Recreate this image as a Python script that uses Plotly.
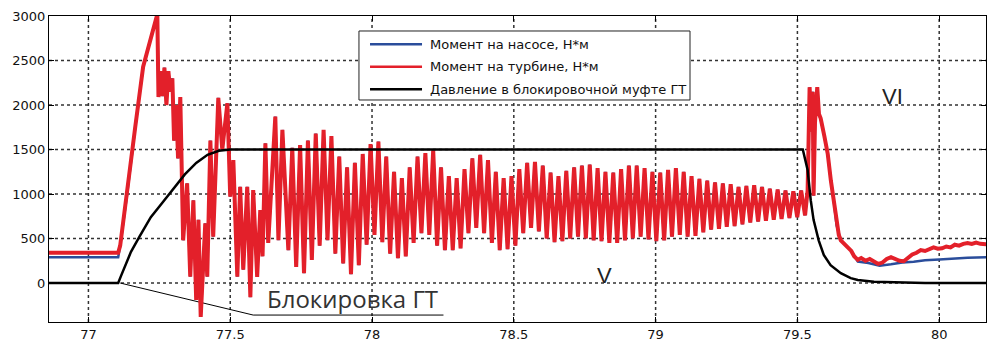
import numpy as np
import plotly.graph_objects as go

# ---- data -------------------------------------------------------------
# before lock-up engagement
t_pre = [76.86, 77.105]
pump_pre = [290, 290]
turbine_pre = [340, 340]

# turbine torque during engagement transient
t_engage = [77.105, 77.112, 77.137, 77.165, 77.193, 77.218, 77.243, 77.247,
            77.255, 77.262, 77.268, 77.275, 77.282, 77.289, 77.296, 77.302,
            77.310, 77.316, 77.324, 77.334, 77.348, 77.359, 77.370, 77.380,
            77.388, 77.396, 77.412, 77.419, 77.430, 77.440, 77.458, 77.472,
            77.490, 77.500, 77.511, 77.525, 77.535, 77.546, 77.560, 77.571,
            77.581, 77.595, 77.606, 77.614, 77.624, 77.634, 77.659, 77.670,
            77.684]
turbine_engage = [340, 420, 1010, 1750, 2430, 2730, 3020, 2090,
                  2380, 2100, 2420, 2000, 2380, 2150, 2300, 1600,
                  2000, 1400, 2090, 480, 1120, 70, 930, -190,
                  710, -380, 670, 70, 1600, 520, 2080, 1500,
                  2020, 970, 1380, 70, 1080, 150, 1080, -160,
                  1045, 70, 820, 300, 1570, 450, 1870, 480,
                  1720]

# turbine torque oscillation extrema (equally spaced in time)
osc_start, osc_end = 77.705, 79.527
turbine_osc = [370, 1520, 180, 1550, 110, 1600, 260, 1680, 420, 1720,
               480, 1650, 330, 1420, 220, 1300, 100, 1350, 200, 1450,
               430, 1560, 540, 1590, 460, 1420, 330, 1250, 280, 1180,
               300, 1300, 450, 1420, 560, 1460, 540, 1490, 420, 1300,
               370, 1200, 370, 1180, 390, 1280, 560, 1400, 620, 1440,
               560, 1380, 450, 1250, 370, 1180, 380, 1200, 420, 1280,
               560, 1350, 620, 1360, 580, 1320, 500, 1240, 460, 1200,
               470, 1260, 500, 1300, 520, 1320, 500, 1330, 480, 1290,
               470, 1250, 450, 1240, 450, 1280, 480, 1320, 500, 1320,
               520, 1290, 490, 1250, 470, 1240, 480, 1270, 520, 1290,
               540, 1250, 520, 1200, 530, 1170, 570, 1150, 600, 1130,
               610, 1120, 630, 1110, 640, 1080, 660, 1090, 680, 1100,
               690, 1080, 700, 1060, 710, 1050, 720, 1040, 730, 1030,
               740, 1040, 760]

# lock-up release spike and recovery
t_release = [79.536, 79.543, 79.550, 79.554, 79.557, 79.562, 79.570, 79.576,
             79.582, 79.595, 79.607, 79.618, 79.628, 79.638, 79.646, 79.653,
             79.670, 79.690, 79.700, 79.713, 79.725, 79.740, 79.755, 79.770,
             79.785, 79.800, 79.815, 79.830, 79.845, 79.860, 79.875, 79.890,
             79.905, 79.920, 79.935, 79.950, 79.965, 79.980, 79.995, 80.010,
             80.025, 80.040, 80.055, 80.070, 80.085, 80.100, 80.115, 80.130,
             80.145, 80.160, 80.170]
turbine_release = [1040, 2200, 1700, 2150, 980, 1800, 2200, 1900,
                   1850, 1650, 1450, 1150, 930, 650, 540, 480,
                   420, 360, 300, 260, 280, 250, 270, 240,
                   215, 230, 270, 290, 270, 250, 245, 290,
                   320, 340, 370, 360, 380, 400, 385, 390,
                   410, 400, 430, 420, 440, 450, 440, 455,
                   440, 430, 435]

# pump torque after release (elsewhere it follows the turbine torque)
t_pump_tail = [79.653, 79.690, 79.713, 79.750, 79.790, 79.830, 79.870, 79.910,
               79.950, 80.000, 80.050, 80.100, 80.170]
pump_tail = [480, 360, 240, 225, 195, 210, 230, 240,
             255, 265, 275, 285, 290]

# lock-up clutch pressure
t_pressure = [76.86, 77.105, 77.115, 77.13, 77.15, 77.18, 77.22, 77.26, 77.30,
              77.34, 77.38, 77.42, 77.46, 77.50, 79.519, 79.536, 79.547, 79.557,
              79.575, 79.593, 79.617, 79.653, 79.688, 79.713, 79.77, 79.89,
              79.95, 80.17]
pressure = [0, 0, 80, 200, 350, 520, 740, 900, 1060,
            1220, 1350, 1440, 1485, 1500, 1500, 1270, 930, 710,
            480, 315, 200, 110, 55, 35, 15, 5,
            0, 0]

# callout for the lock-up label
callout_t = [77.112, 77.581, 78.252]
callout_y = [0, -360, -360]

x_range = [76.861, 80.165]
y_range = [-438, 3000]
x_ticks = [77, 77.5, 78, 78.5, 79, 79.5, 80]
x_tick_text = ["77", "77.5", "78", "78.5", "79", "79.5", "80"]
y_ticks = [0, 500, 1000, 1500, 2000, 2500, 3000]

legend_names = ["Момент на насосе, Н*м",
                "Момент на турбине, Н*м",
                "Давление в блокировочной муфте ГТ"]

# ---- assemble series ----------------------------------------------------
t_osc = np.linspace(osc_start, osc_end, len(turbine_osc))
t_turbine = np.concatenate([t_pre, t_engage[1:], t_osc, t_release])
turbine = np.concatenate([turbine_pre, turbine_engage[1:], turbine_osc, turbine_release])

shared = (t_turbine > t_pre[-1]) & (t_turbine < t_pump_tail[0])
t_pump = np.concatenate([t_pre, t_turbine[shared], t_pump_tail])
pump = np.concatenate([pump_pre, turbine[shared], pump_tail])

BLUE = "#2a4d9b"
RED = "#e3202a"
BLACK = "#000000"
GRID_LINE = dict(color="#333333", width=1.5, dash="dot")

fig = go.Figure()

# dotted grid drawn as plain line traces beneath the curves
for yv in y_ticks[:-1]:
    fig.add_trace(go.Scatter(x=x_range, y=[yv, yv], mode="lines", line=GRID_LINE,
                             hoverinfo="skip", showlegend=False))
for xv in x_ticks:
    fig.add_trace(go.Scatter(x=[xv, xv], y=y_range, mode="lines", line=GRID_LINE,
                             hoverinfo="skip", showlegend=False))

fig.add_trace(go.Scatter(x=callout_t, y=callout_y, mode="lines",
                         line=dict(color=BLACK, width=1), hoverinfo="skip",
                         showlegend=False))
fig.add_trace(go.Scatter(x=t_pump, y=pump, mode="lines", name=legend_names[0],
                         line=dict(color=BLUE, width=2.5), showlegend=False))
fig.add_trace(go.Scatter(x=t_turbine, y=turbine, mode="lines", name=legend_names[1],
                         line=dict(color=RED, width=4), showlegend=False))
fig.add_trace(go.Scatter(x=t_pressure, y=pressure, mode="lines", name=legend_names[2],
                         line=dict(color=BLACK, width=2.5), showlegend=False))

# legend box drawn in paper coordinates
box_x0, box_x1, box_y0, box_y1 = 0.3308, 0.6841, 0.7255, 0.951
fig.add_shape(type="rect", xref="paper", yref="paper",
              x0=box_x0, x1=box_x1, y0=box_y0, y1=box_y1,
              line=dict(color="#222", width=1), fillcolor="white", layer="above")
row_y = [0.908, 0.834, 0.761]
for name, color, yy in zip(legend_names, [BLUE, RED, BLACK], row_y):
    fig.add_shape(type="line", xref="paper", yref="paper",
                  x0=0.3426, x1=0.3981, y0=yy, y1=yy,
                  line=dict(color=color, width=2.5), layer="above")
    fig.add_annotation(xref="paper", yref="paper", x=0.4045, y=yy, text=name,
                       showarrow=False, xanchor="left", yanchor="middle",
                       font=dict(family="DejaVu Sans", size=13, color="#111"))

fig.add_annotation(x=77.931, y=-175, text="Блокировка ГТ", showarrow=False,
                   font=dict(family="Open Sans", size=24, color="#333"))
fig.add_annotation(x=78.82, y=80, text="V", showarrow=False,
                   font=dict(family="Liberation Sans", size=22, color="#222"))
fig.add_annotation(x=79.837, y=2090, text="VI", showarrow=False,
                   font=dict(family="Liberation Sans", size=22, color="#222"))

axis_common = dict(showline=True, linecolor=BLACK, linewidth=1, mirror="ticks",
                   ticks="inside", ticklen=5, tickcolor=BLACK,
                   showgrid=False, zeroline=False,
                   tickfont=dict(family="DejaVu Sans", size=13, color="#111"))

fig.update_xaxes(range=x_range, tickvals=x_ticks, ticktext=x_tick_text,
                 **axis_common)
fig.update_yaxes(range=y_range, tickvals=y_ticks, **axis_common)

fig.update_layout(width=987, height=344, margin=dict(l=49, r=1, t=16, b=22),
                  plot_bgcolor="white", paper_bgcolor="white",
                  hovermode=False)

fig.write_html("out.html")
